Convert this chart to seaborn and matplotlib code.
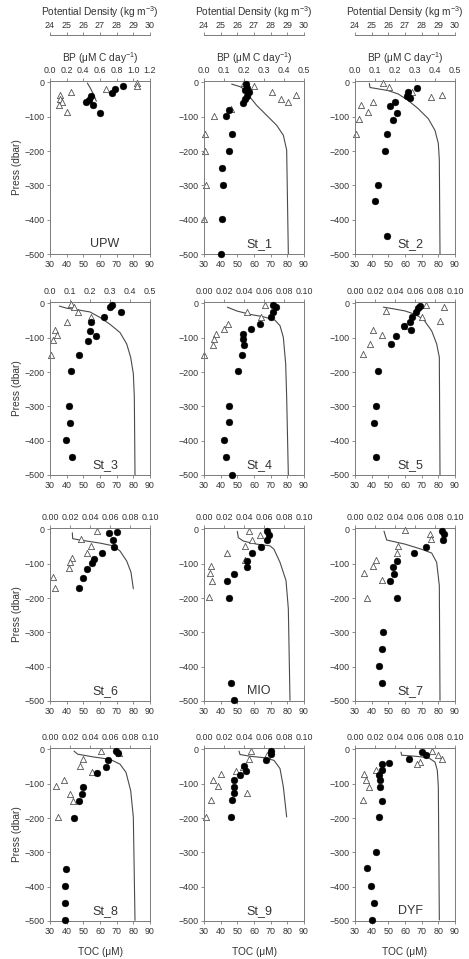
import matplotlib
matplotlib.use("Agg")
import matplotlib.pyplot as plt
import seaborn as sns
import numpy as np
from matplotlib.ticker import MultipleLocator, FormatStrFormatter

sns.set_style("ticks")
plt.rcParams["font.family"] = ["Liberation Sans", "DejaVu Sans"]
plt.rcParams["mathtext.fontset"] = "custom"
plt.rcParams["mathtext.rm"] = "Liberation Sans"
plt.rcParams["mathtext.it"] = "Liberation Sans:italic"
plt.rcParams["mathtext.default"] = "regular"

# ---------------- data ----------------
PANELS = ["UPW", "St_1", "St_2", "St_3", "St_4", "St_5", "St_6", "MIO", "St_7", "St_8", "St_9", "DYF"]
BP_MAX = [1.2, 0.5, 0.5, 0.5, 0.10, 0.10, 0.10, 0.10, 0.10, 0.10, 0.10, 0.10]
BP_STEP = [0.2, 0.1, 0.1, 0.1, 0.02, 0.02, 0.02, 0.02, 0.02, 0.02, 0.02, 0.02]

UPW_TOC = [74, 69, 67, 51.6, 53.2, 54.4, 56, 60]
UPW_TOC_P = [-12, -19, -31, -58, -50, -41, -67, -89]
UPW_BP = [1.04, 1.04, 0.67, 0.25, 0.12, 0.12, 0.14, 0.11, 0.20]
UPW_BP_P = [-1, -12, -19, -29, -38, -48, -58, -65, -87]
UPW_PD = [26.24, 26.4, 26.56, 26.7, 26.78]
UPW_PD_P = [-2, -15, -30, -45, -55]

ST1_TOC = [55.0, 56.0, 54.6, 57.0, 55.6, 54.6, 53.2, 45.2, 43.2, 46.8, 44.8, 40.6, 41.6, 40.6, 40]
ST1_TOC_P = [-5, -16, -22, -29, -40, -48, -60, -80, -99, -149, -199, -250, -299, -398, -500]
ST1_BP = [0.20, 0.25, 0.34, 0.46, 0.385, 0.42, 0.135, 0.052, 0.007, 0.005, 0.01, 0.0]
ST1_BP_P = [-3, -12, -27, -37, -48, -58, -79, -99, -149, -199, -299, -398]
ST1_PD = [25.66, 26.16, 26.56, 26.76, 27.16, 27.76, 28.36, 28.76, 28.96, 29.06]
ST1_PD_P = [-5, -12.5, -24, -43, -67, -96, -125, -154, -197, -500]

ST2_TOC = [67, 61.6, 61, 63, 54, 51, 55, 52.6, 49, 48, 43.6, 42, 49]
ST2_TOC_P = [-16, -29, -39, -45, -58, -69, -90, -109, -149, -199, -299, -347, -448]
ST2_BP = [0.138, 0.172, 0.283, 0.433, 0.38, 0.092, 0.03, 0.063, 0.022, 0.003]
ST2_BP_P = [-3, -14, -29, -38, -43, -58, -67, -87, -108, -149]
ST2_PD = [24.86, 24.9, 25.4, 26.0, 26.6, 27.2, 27.8, 28.4, 28.8, 29.0, 29.06, 29.1]
ST2_PD_P = [-3, -15, -19, -24, -34, -53, -77, -106, -140, -178, -226, -500]

ST3_TOC = [67, 66, 72.4, 62.4, 54.6, 54, 57.4, 53, 47.6, 42.4, 41.2, 42.2, 39.6, 43.2]
ST3_TOC_P = [-5, -11, -25, -40, -54, -80, -94, -109, -150, -198, -298, -348, -398, -448]
ST3_BP = [0.103, 0.12, 0.138, 0.203, 0.087, 0.025, 0.037, 0.017, 0.003]
ST3_BP_P = [-3, -10, -24, -39, -53, -78, -92, -107, -150]
ST3_PD = [24.56, 25.0, 25.8, 26.4, 27.0, 27.6, 28.2, 28.6, 28.84, 29.0, 29.06, 29.1]
ST3_PD_P = [-8, -14, -20, -25, -41, -61, -85, -118, -157, -205, -273, -500]

ST4_TOC = [71.2, 73.2, 71.2, 70, 63.6, 58, 53.2, 53.2, 54.2, 52.6, 50.2, 45.2, 45.2, 42.2, 43.2, 46.6]
ST4_TOC_P = [-6, -12, -24, -39, -61, -76, -88, -104, -120, -150, -198, -298, -347, -398, -448, -500]
ST4_BP = [0.061, 0.043, 0.057, 0.024, 0.02, 0.012, 0.010, 0.009, 0.0]
ST4_BP_P = [-5, -25, -39, -59, -75, -90, -104, -120, -150]
ST4_PD = [25.4, 25.96, 26.76, 27.56, 28.26, 28.56, 28.76, 28.9, 28.96, 29.06]
ST4_PD_P = [-11, -22, -32, -39, -49, -65, -99, -176, -273, -500]

ST5_TOC = [69, 68, 66.6, 64, 63.2, 59.6, 63.6, 54.4, 51.6, 43.6, 42.6, 41.2, 42.4]
ST5_TOC_P = [-8, -14, -24, -39, -53, -66, -78, -94, -119, -198, -298, -348, -448]
ST5_BP = [0.071, 0.089, 0.031, 0.067, 0.085, 0.05, 0.018, 0.027, 0.015, 0.008]
ST5_BP_P = [-5, -11, -22, -39, -52, -66, -78, -92, -118, -147]
ST5_PD = [25.7, 26.2, 27.0, 27.6, 28.1, 28.6, 28.9, 29.06, 29.1]
ST5_PD_P = [-11, -15, -22, -32, -46, -80, -118, -157, -500]

ST6_TOC = [70, 65.6, 68, 68.6, 61, 56.4, 55.4, 52.4, 50, 47.4]
ST6_TOC_P = [-8, -12, -31, -50, -70, -85, -99, -116, -141, -171]
ST6_BP = [0.047, 0.031, 0.041, 0.037, 0.022, 0.02, 0.019, 0.003, 0.005]
ST6_BP_P = [-6, -27, -49, -69, -83, -96, -113, -140, -171]
ST6_PD = [25.34, 25.36, 25.8, 27.0, 27.8, 28.2, 28.6, 28.86, 29.0]
ST6_PD_P = [-10, -27, -31, -40, -48, -63, -92, -125, -173]

MIO_TOC = [68, 69, 68, 64, 59, 56, 56, 48, 44, 45, 46, 48]
MIO_TOC_P = [-6, -15, -31, -50, -70, -92, -111, -130, -150, -199, -449, -498]
MIO_BP = [0.045, 0.056, 0.048, 0.041, 0.023, 0.041, 0.007, 0.006, 0.008, 0.005]
MIO_BP_P = [-5, -15, -31, -49, -69, -90, -108, -128, -149, -198]
MIO_PD = [26.0, 26.06, 26.36, 27.16, 27.96, 28.2, 28.56, 28.92, 29.06, 29.16]
MIO_PD_P = [-6, -24, -34, -43, -48, -58, -96, -149, -231, -498]

ST7_TOC = [82.4, 83.6, 83, 72.4, 65.2, 55, 53, 53.4, 51.2, 55, 47, 46, 44.6, 46]
ST7_TOC_P = [-4, -13, -31, -50, -70, -91, -110, -130, -150, -199, -299, -349, -398, -448]
ST7_BP = [0.05, 0.075, 0.076, 0.043, 0.042, 0.021, 0.018, 0.009, 0.027, 0.012]
ST7_BP_P = [-2, -14, -27, -48, -69, -90, -108, -128, -148, -199]
ST7_PD = [25.74, 25.9, 27.0, 28.0, 28.6, 28.9, 29.06, 29.1]
ST7_PD_P = [-5, -31, -43, -58, -69, -96, -164, -498]

ST8_TOC = [69.6, 70.8, 65, 63.6, 58, 50, 49.4, 47.6, 44.6, 39.6, 38.8, 38.8, 39.2]
ST8_TOC_P = [-5, -12, -30, -50, -70, -109, -130, -149, -199, -349, -398, -447, -498]
ST8_BP = [0.051, 0.069, 0.033, 0.03, 0.042, 0.014, 0.006, 0.02, 0.023, 0.008]
ST8_BP_P = [-5, -12, -29, -48, -67, -89, -108, -130, -149, -197]
ST8_PD = [25.44, 25.66, 26.6, 27.6, 28.2, 28.56, 28.84, 29.0, 29.1]
ST8_PD_P = [-5, -14, -22, -29, -43, -67, -120, -197, -498]

ST9_TOC = [70, 70.4, 67, 54.2, 55.2, 51.6, 48, 48, 48, 47, 46]
ST9_TOC_P = [-5, -14, -30, -48, -63, -74, -90, -109, -128, -148, -198]
ST9_BP = [0.047, 0.063, 0.045, 0.039, 0.032, 0.017, 0.009, 0.014, 0.043, 0.007, 0.002]
ST9_BP_P = [-5, -15, -29, -51, -63, -72, -88, -108, -126, -147, -197]
ST9_PD = [26.1, 26.16, 26.76, 27.56, 28.2, 28.56, 28.76, 28.96]
ST9_PD_P = [-5, -15, -20, -24, -32, -56, -109, -197]

DYF_TOC = [70.4, 72.4, 62.4, 50.4, 46.4, 46.4, 44.4, 45.2, 45.2, 46.4, 44.4, 42.4, 37.4, 39.4, 41.4, 40.4]
DYF_TOC_P = [-8, -17, -27, -39, -44, -61, -75, -90, -111, -149, -198, -299, -347, -398, -448, -497]
DYF_BP = [0.077, 0.083, 0.087, 0.065, 0.062, 0.021, 0.009, 0.011, 0.014, 0.008]
DYF_BP_P = [-5, -17, -27, -37, -43, -59, -72, -90, -109, -147]
DYF_PD = [26.76, 26.8, 27.6, 28.4, 28.8, 28.94, 29.0, 29.06]
DYF_PD_P = [-8, -17, -20, -24, -37, -61, -109, -497]

SERIES = [
    (UPW_TOC, UPW_TOC_P, UPW_BP, UPW_BP_P, UPW_PD, UPW_PD_P),
    (ST1_TOC, ST1_TOC_P, ST1_BP, ST1_BP_P, ST1_PD, ST1_PD_P),
    (ST2_TOC, ST2_TOC_P, ST2_BP, ST2_BP_P, ST2_PD, ST2_PD_P),
    (ST3_TOC, ST3_TOC_P, ST3_BP, ST3_BP_P, ST3_PD, ST3_PD_P),
    (ST4_TOC, ST4_TOC_P, ST4_BP, ST4_BP_P, ST4_PD, ST4_PD_P),
    (ST5_TOC, ST5_TOC_P, ST5_BP, ST5_BP_P, ST5_PD, ST5_PD_P),
    (ST6_TOC, ST6_TOC_P, ST6_BP, ST6_BP_P, ST6_PD, ST6_PD_P),
    (MIO_TOC, MIO_TOC_P, MIO_BP, MIO_BP_P, MIO_PD, MIO_PD_P),
    (ST7_TOC, ST7_TOC_P, ST7_BP, ST7_BP_P, ST7_PD, ST7_PD_P),
    (ST8_TOC, ST8_TOC_P, ST8_BP, ST8_BP_P, ST8_PD, ST8_PD_P),
    (ST9_TOC, ST9_TOC_P, ST9_BP, ST9_BP_P, ST9_PD, ST9_PD_P),
    (DYF_TOC, DYF_TOC_P, DYF_BP, DYF_BP_P, DYF_PD, DYF_PD_P),
]

# ---------------- layout ----------------
W, H = 469, 959
fig = plt.figure(figsize=(W / 100, H / 100), dpi=100)
COL_LEFT = [50, 204, 355]
AX_W = 100
ROW_TOP = [81, 302, 528, 748]
AX_H = 173

SPINE = "#7a7a7a"
TXT = "#333333"
FS = 6.4

def style_axis(a, which):
    a.tick_params(axis=which, which="both", direction="out", length=2.5, width=0.6,
                  color=SPINE, labelsize=FS, labelcolor=TXT, pad=1.5)

for i, name in enumerate(PANELS):
    r, c = divmod(i, 3)
    toc, toc_p, bp, bp_p, pdv, pd_p = SERIES[i]
    left = COL_LEFT[c] / W
    bottom = 1 - (ROW_TOP[r] + AX_H) / H
    ax = fig.add_axes([left, bottom, AX_W / W, AX_H / H])
    ax.set_xlim(30, 90)
    ax.set_ylim(-500, 4)
    for s in ax.spines.values():
        s.set_color(SPINE)
        s.set_linewidth(0.7)

    # potential density line
    ax3 = ax.twiny()
    ax3.set_xlim(24, 30)
    sns.lineplot(x=pdv, y=pd_p, ax=ax3, sort=False, orient="y", estimator=None,
                 color="#4a4a4a", linewidth=0.8)
    for s in ax3.spines.values():
        s.set_visible(False)
    ax3.tick_params(axis="y", left=False, right=False, labelleft=False, labelright=False)
    if r == 0:
        ax3.spines["top"].set_visible(True)
        ax3.spines["top"].set_position(("outward", 33))
        ax3.spines["top"].set_color(SPINE)
        ax3.spines["top"].set_linewidth(0.7)
        ax3.xaxis.set_major_locator(MultipleLocator(1))
        style_axis(ax3, "x")
        ax3.set_xlabel("Potential Density (kg m$^{-3}$)", fontsize=7.3, color=TXT, labelpad=3)
    else:
        ax3.tick_params(axis="x", top=False, labeltop=False, bottom=False, labelbottom=False)
        ax3.set_xlabel("")

    # BP triangles
    ax2 = ax.twiny()
    ax2.set_xlim(0, BP_MAX[i])
    sns.scatterplot(x=bp, y=bp_p, ax=ax2, marker="^", s=20, facecolor="white",
                    edgecolor="#555555", linewidth=0.6, clip_on=False, zorder=3)
    for s in ax2.spines.values():
        s.set_visible(False)
    ax2.xaxis.set_major_locator(MultipleLocator(BP_STEP[i]))
    ax2.xaxis.set_major_formatter(FormatStrFormatter("%.1f" if BP_MAX[i] > 0.2 else "%.2f"))
    style_axis(ax2, "x")
    ax2.tick_params(axis="y", left=False, right=False, labelleft=False, labelright=False)
    if r == 0:
        ax2.set_xlabel("BP (\u03bcM C day$^{-1}$)", fontsize=7.3, color=TXT, labelpad=3)
    else:
        ax2.set_xlabel("")

    # TOC circles
    sns.scatterplot(x=toc, y=toc_p, ax=ax, color="black", s=24,
                    edgecolor="black", linewidth=0.3, clip_on=False, zorder=4)
    ax.set_zorder(ax2.get_zorder() + 1)
    ax.patch.set_visible(False)
    ax.set_xlim(30, 90)
    ax.set_ylim(-500, 4)
    ax.xaxis.set_major_locator(MultipleLocator(10))
    ax.yaxis.set_major_locator(MultipleLocator(100))
    style_axis(ax, "x")
    style_axis(ax, "y")
    ax.tick_params(axis="x", top=False, labeltop=False, bottom=True, labelbottom=True)
    ax.tick_params(axis="y", left=True, labelleft=True, right=False)

    ax.text(63, -470, name, ha="center", va="center", fontsize=9, color=TXT)
    ax.set_xlabel("")
    ax.set_ylabel("")
    if c == 0:
        ax.set_ylabel("Press (dbar)", fontsize=7.3, color=TXT, labelpad=2)
    if r == 3:
        ax.set_xlabel("TOC (\u03bcM)", fontsize=7.3, color=TXT, labelpad=8)

fig.savefig("out.png", dpi=100)
